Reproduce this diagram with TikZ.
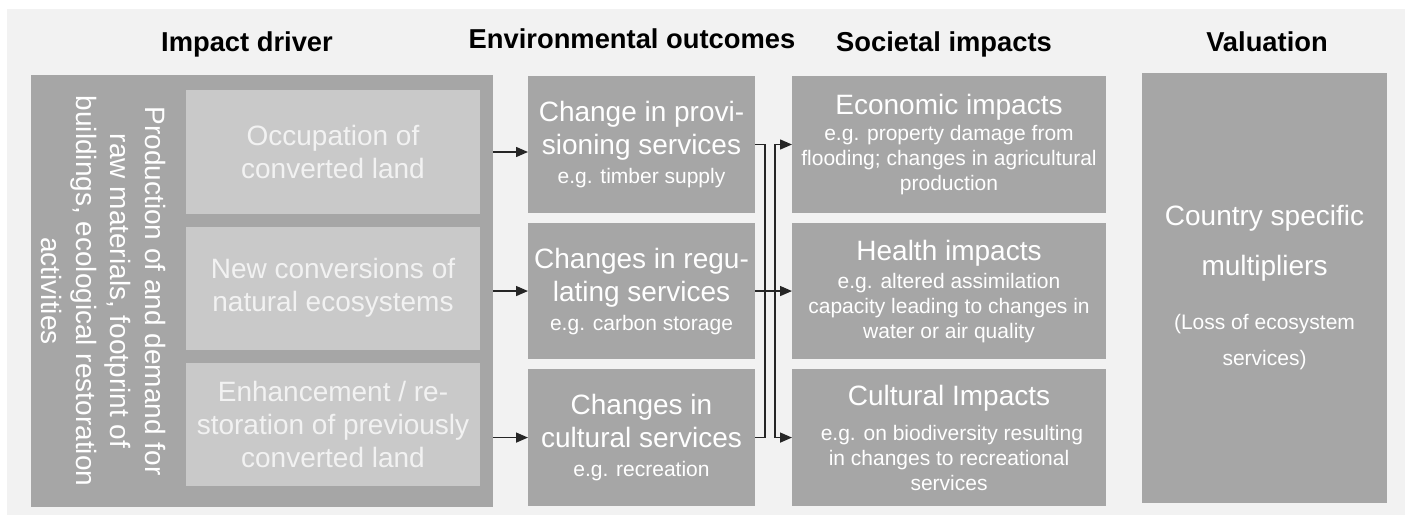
\documentclass[tikz,border=0pt]{standalone}
\usepackage{fontspec}
\setmainfont{Liberation Sans}
\usetikzlibrary{arrows.meta,positioning}
\definecolor{panelgray}{HTML}{F2F2F2}
\definecolor{boxgray}{HTML}{A6A6A6}
\definecolor{innergray}{HTML}{C9C9C9}
\definecolor{linegray}{HTML}{262626}
\newcommand\titletxt{\fontsize{21pt}{24.75pt}\selectfont}
\newcommand\subtxt{\fontsize{15.75pt}{18.75pt}\selectfont}

\begin{document}
\begin{tikzpicture}[
  x=0.75pt,y=-0.75pt,
  node distance=7.5pt and 27.75pt,
  box/.style={rectangle,fill=boxgray,text=white,inner sep=0pt,outer sep=0pt,
    align=center,font=\titletxt},
  envbox/.style={box,minimum width=170.25pt,minimum height=102.4pt},
  socbox/.style={box,minimum width=235.5pt,minimum height=102.4pt},
  drvbox/.style={box,fill=innergray,text=panelgray,minimum width=220.5pt,
    minimum height=92.25pt},
  header/.style={anchor=base,font=\fontsize{20.5pt}{24pt}\selectfont\bfseries},
  arrow/.style={-{Triangle[length=9pt,width=7.5pt]},line width=1.1pt,color=linegray},
  bus/.style={line width=1.1pt,color=linegray}
]
  \useasboundingbox (0,0) rectangle (1409,517);
  \fill[white] (0,0) rectangle (1409,517);
  \fill[panelgray] (7,9) rectangle (1405,515);

  % column headers
  \node[header] (hdrv) at (247,52) {Impact driver};
  \node[header] (henv) at (632,49) {Environmental outcomes};
  \node[header] (hsoc) at (944,52) {Societal impacts};
  \node[header] (hval) at (1267,52) {Valuation};

  % impact driver
  \node[box,minimum width=346.5pt,minimum height=324pt] (drv) at (262,291) {};
  \node[box,fill=none,rotate=-90,font=\fontsize{21pt}{25.9pt}\selectfont] (prod) at (103.5,291)
    {Production of and demand for\\raw materials, footprint of\\buildings, ecological restoration\\activities};
  \node[drvbox] (occ) at (333,152) {Occupation of\\converted land};
  \node[drvbox] (conv) at (333,288) {New conversions of\\natural ecosystems};
  \node[drvbox] (rest) at (333,424.5) {Enhancement / re-\\storation of previously\\converted land};

  % environmental outcomes
  \node[envbox] (env1) at (641.5,144.5)
    {Change in provi-\\sioning services\\[-3pt]{\subtxt e.g. timber supply}};
  \node[envbox,below=of env1] (env2)
    {Changes in regu-\\lating services\\[-3pt]{\subtxt e.g. carbon storage}};
  \node[envbox,below=of env2] (env3)
    {Changes in\\cultural services\\[-3pt]{\subtxt e.g. recreation}};

  % societal impacts
  \node[socbox,right=of env1] (econ)
    {Economic impacts\\[-5.25pt]{\subtxt e.g. property damage from}\\[-6pt]
     {\subtxt flooding; changes in agricultural}\\[-6pt]{\subtxt production}};
  \node[socbox,below=of econ] (health)
    {Health impacts\\[-3.75pt]{\subtxt e.g. altered assimilation}\\[-6pt]
     {\subtxt capacity leading to changes in}\\[-6pt]{\subtxt water or air quality}};
  \node[socbox,below=of health] (cult)
    {Cultural Impacts\\[1.5pt]{\subtxt \ e.g. on biodiversity resulting}\\[-6pt]
     {\subtxt in changes to recreational}\\[-6pt]{\subtxt services}};

  % valuation
  \node[box,minimum width=183.75pt,minimum height=322.5pt] (val) at (1264.5,288)
    {Country specific\\[12.75pt]multipliers\\[15.75pt]{\subtxt (Loss of ecosystem}\\[2.25pt]
     {\subtxt services)}};

  % connectors
  \coordinate (busL) at ([xshift=7.5pt]env1.east);
  \coordinate (busR) at ([xshift=15pt]env1.east);
  \draw[arrow] (drv.east |- occ) -- (env1.west |- occ);
  \draw[arrow] (drv.east |- env2) -- (env2.west);
  \draw[arrow] (drv.east |- env3) -- (env3.west);
  \draw[bus] (env1.east) -| (busL |- env3.east) -- (env3.east);
  \draw[arrow] (env2.east) -- (health.west);
  \draw[arrow] (busR |- cult.west) |- (econ.west);
  \draw[arrow] (busR |- econ.west) |- (cult.west);
\end{tikzpicture}
\end{document}
